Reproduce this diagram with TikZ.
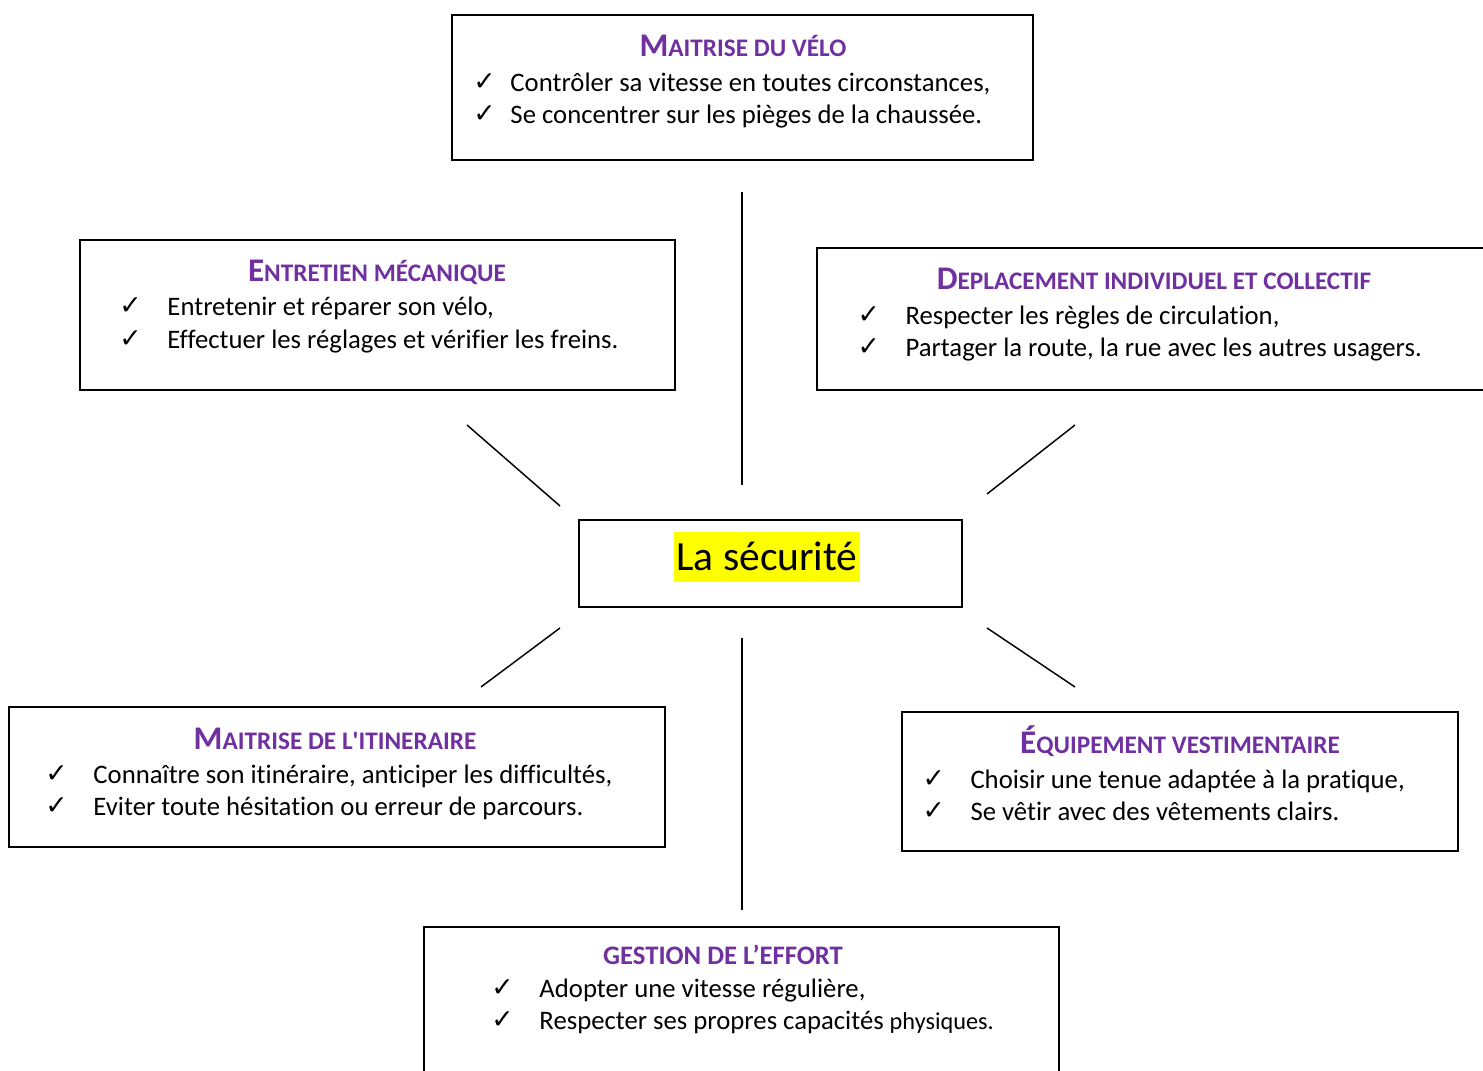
\documentclass[tikz,border=0pt]{standalone}
\usepackage{fontspec}
\setmainfont{Carlito}[Ligatures={NoCommon}]
\newfontfamily\plainfont{Carlito}[Ligatures={NoCommon}]
\newfontfamily\symfont{DejaVu Sans}
\usetikzlibrary{fit}
\definecolor{titlepurple}{HTML}{7030A0}
\definecolor{hlyellow}{HTML}{FFFF00}
\newcommand{\bigc}[1]{{\fontsize{13.6}{15}\selectfont #1}}
\newcommand{\smallc}[1]{{\fontsize{10.4}{12}\selectfont #1}}
\newcommand{\chk}{{\symfont\fontsize{11}{13}\selectfont ✓}}
\newcommand{\sqt}{{\plainfont\bfseries\symbol{39}}}
\tikzset{
  box/.style={draw=black, line width=0.8pt, inner sep=0pt, fill=white},
  ttl/.style={anchor=base, inner sep=0pt, text=titlepurple, font=\bfseries},
  item/.style={anchor=base west, inner sep=0pt, font=\fontsize{11}{13}\selectfont},
  tick/.style={anchor=base west, inner sep=0pt},
  link/.style={line width=0.6pt, draw=black}
}
\begin{document}
\begin{tikzpicture}[x=0.4118pt, y=-0.4118pt]
\useasboundingbox (0,0) rectangle (1483,1071);
\clip (0,0) rectangle (1483,1071);

% boxes
\node[box, fit={(452,15) (1033,160)}] (b1) {};
\node[box, fit={(80,240) (675,390)}] (b2) {};
\node[box, fit={(817,248) (1500,390)}] (b3) {};
\node[box, fit={(579,520) (962,607)}] (c) {};
\node[box, fit={(9,707) (665,847)}] (b4) {};
\node[box, fit={(902,712) (1458,851)}] (b5) {};
\node[box, fit={(424,927) (1059,1100)}] (b6) {};

% centre
\node[anchor=base, fill=hlyellow, inner xsep=1pt, inner ysep=0pt, text height=16pt, text depth=4.5pt,
      font=\fontsize{17.1}{20}\selectfont] (sec) at (767,571) {La sécurité};

% box 1
\node[ttl] (t1) at (743,57) {\bigc{M}\smallc{AITRISE DU VÉLO}};
\node[tick] (k11) at (473,91) {\chk};
\node[item] (i11) at (510,92) {Contrôler sa vitesse en toutes circonstances,};
\node[tick] (k12) at (473,123) {\chk};
\node[item] (i12) at (510,124) {Se concentrer sur les pièges de la chaussée.};

% box 2
\node[ttl] (t2) at (377,282) {\bigc{E}\smallc{NTRETIEN MÉCANIQUE}};
\node[tick] (k21) at (119,315) {\chk};
\node[item] (i21) at (167,316) {Entretenir et réparer son vélo,};
\node[tick] (k22) at (119,348) {\chk};
\node[item] (i22) at (167,349) {Effectuer les réglages et vérifier les freins.};

% box 3
\node[ttl] (t3) at (1154,290) {\bigc{D}\smallc{EPLACEMENT INDIVIDUEL ET COLLECTIF}};
\node[tick] (k31) at (857,324) {\chk};
\node[item] (i31) at (905,325) {Respecter les règles de circulation,};
\node[tick] (k32) at (857,356) {\chk};
\node[item] (i32) at (905,357) {Partager la route, la rue avec les autres usagers.};

% box 4
\node[ttl] (t4) at (335,749) {\bigc{M}\smallc{AITRISE DE L\sqt ITINERAIRE}};
\node[tick] (k41) at (45,782) {\chk};
\node[item] (i41) at (93,783) {Connaître son itinéraire, anticiper les difficultés,};
\node[tick] (k42) at (45,814) {\chk};
\node[item] (i42) at (93,815) {Eviter toute hésitation ou erreur de parcours.};

% box 5
\node[ttl] (t5) at (1180,753) {\bigc{É}\smallc{QUIPEMENT VESTIMENTAIRE}};
\node[tick] (k51) at (922,787) {\chk};
\node[item] (i51) at (970,788) {Choisir une tenue adaptée à la pratique,};
\node[tick] (k52) at (922,819) {\chk};
\node[item] (i52) at (970,820) {Se vêtir avec des vêtements clairs.};

% box 6
\node[ttl] (t6) at (723,964) {{\fontsize{11}{13}\selectfont GESTION DE L’EFFORT}};
\node[tick] (k61) at (491,996) {\chk};
\node[item] (i61) at (539,997) {Adopter une vitesse régulière,};
\node[tick] (k62) at (491,1028) {\chk};
\node[item] (i62) at (539,1029) {Respecter ses propres capacités {\fontsize{10}{12}\selectfont physiques.}};

% connector end points
\coordinate (a1) at (742,192); \coordinate (a2) at (742,485);
\coordinate (d1) at (467,425); \coordinate (d2) at (560,506);
\coordinate (e1) at (1075,425); \coordinate (e2) at (987,494);
\coordinate (f1) at (560,628); \coordinate (f2) at (481,687);
\coordinate (g1) at (987,628); \coordinate (g2) at (1075,687);
\coordinate (h1) at (742,638); \coordinate (h2) at (742,910);

\draw[link] (a1) -- (a2);
\draw[link] (d1) -- (d2);
\draw[link] (e1) -- (e2);
\draw[link] (f1) -- (f2);
\draw[link] (g1) -- (g2);
\draw[link] (h1) -- (h2);
\end{tikzpicture}
\end{document}
